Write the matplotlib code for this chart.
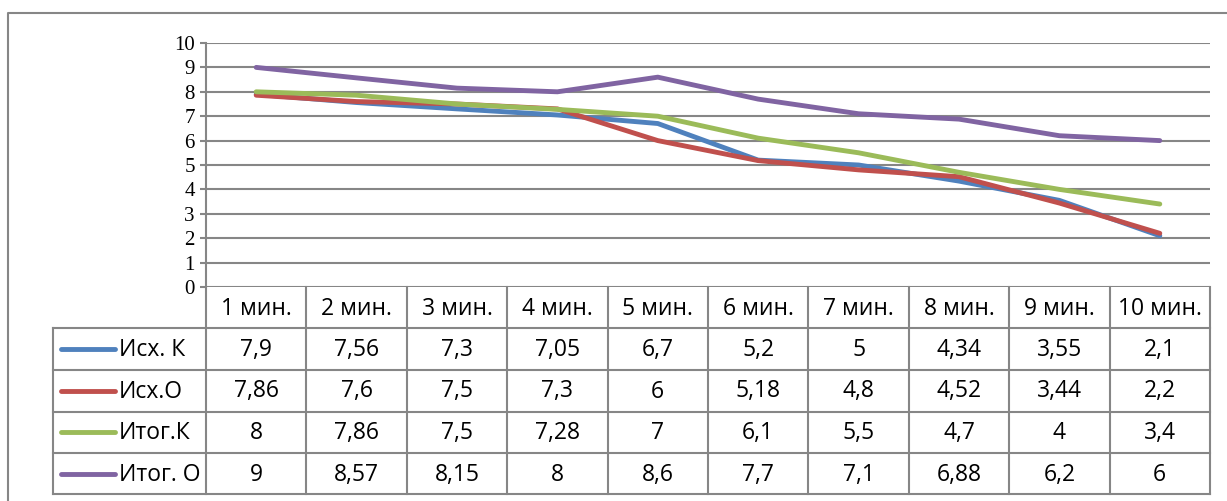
import matplotlib
matplotlib.use("Agg")
import numpy as np
from matplotlib import pyplot as plt

# minutes on the x axis
minutes = ["1 мин.", "2 мин.", "3 мин.", "4 мин.", "5 мин.",
           "6 мин.", "7 мин.", "8 мин.", "9 мин.", "10 мин."]

series_names = ["Исх. К", "Исх.О", "Итог.К", "Итог. О"]
ish_k = [7.9, 7.56, 7.3, 7.05, 6.7, 5.2, 5, 4.34, 3.55, 2.1]
ish_o = [7.86, 7.6, 7.5, 7.3, 6, 5.18, 4.8, 4.52, 3.44, 2.2]
itog_k = [8, 7.86, 7.5, 7.28, 7, 6.1, 5.5, 4.7, 4, 3.4]
itog_o = [9, 8.57, 8.15, 8, 8.6, 7.7, 7.1, 6.88, 6.2, 6]
series = [ish_k, ish_o, itog_k, itog_o]
colors = ["#4F81BD", "#C0504D", "#9BBB59", "#8064A2"]

W, H = 1227, 501
grid_col = "#868686"
table_font = ["Open Sans", "DejaVu Sans"]
tfs = 16.5

fig = plt.figure(figsize=(W / 100, H / 100), dpi=100)

# overlay in pixel coords for the frame and the data table
ov = fig.add_axes([0, 0, 1, 1])
ov.set_xlim(0, W)
ov.set_ylim(H, 0)
ov.axis("off")

# chart frame (runs off the right and bottom edges)
ov.plot([8, 8, W + 5], [H + 5, 13, 13], color=grid_col, lw=1.5, zorder=1)

# plot area
x_left, x_right = 206, 1210
y_top, y_zero = 43, 287
ax = fig.add_axes([x_left / W, 1 - y_zero / H, (x_right - x_left) / W, (y_zero - y_top) / H])
ax.set_xlim(0, len(minutes))
ax.set_ylim(0, 10)
ax.set_yticks(np.arange(0, 11, 1))
ax.set_yticklabels([str(v) for v in range(11)], fontfamily="Liberation Serif", fontsize=15)
ax.set_xticks([])
ax.yaxis.grid(True, color=grid_col, lw=1.5)
ax.set_axisbelow(True)
for side in ["top", "right", "bottom"]:
    ax.spines[side].set_visible(False)
ax.spines["left"].set_color(grid_col)
ax.spines["left"].set_linewidth(1.5)
ax.tick_params(axis="y", length=4, width=1.5, color=grid_col, pad=4)
ax.patch.set_alpha(0)

xs = np.arange(len(minutes)) + 0.5
for vals, c in zip(series, colors):
    ax.plot(xs, vals, color=c, lw=3.5, solid_capstyle="round", solid_joinstyle="round", clip_on=False)

# data table below the plot
col_w = (x_right - x_left) / len(minutes)
tbl_left = 53
rows_y = [287, 328.3, 369.5, 411.5, 453.3, 494]
lc = dict(color=grid_col, lw=1.5, zorder=2)

# horizontal rules
for y in rows_y[1:]:
    ov.plot([tbl_left, x_right], [y, y], **lc)
# vertical rules
ov.plot([tbl_left, tbl_left], [rows_y[1], rows_y[-1]], **lc)
for i in range(len(minutes) + 1):
    xb = x_left + i * col_w
    ov.plot([xb, xb], [rows_y[0], rows_y[-1]], **lc)

def fmt(v):
    return ("%g" % v).replace(".", ",")

for i, m in enumerate(minutes):
    cx = x_left + (i + 0.5) * col_w
    ov.text(cx, (rows_y[0] + rows_y[1]) / 2 + 1, m, ha="center", va="center",
            fontsize=tfs, family=table_font, color="#000000")
    for r, vals in enumerate(series):
        cy = (rows_y[r + 1] + rows_y[r + 2]) / 2 + 1
        ov.text(cx, cy, fmt(vals[i]), ha="center", va="center",
                fontsize=tfs, family=table_font, color="#000000")

# legend keys in the first column
for r, (name, c) in enumerate(zip(series_names, colors)):
    cy = (rows_y[r + 1] + rows_y[r + 2]) / 2
    ov.plot([61, 115], [cy, cy], color=c, lw=3.5, solid_capstyle="round", zorder=3)
    ov.text(119, cy + 1, name, ha="left", va="center",
            fontsize=tfs, family=table_font, color="#000000")

fig.savefig("out.png", dpi=100)
